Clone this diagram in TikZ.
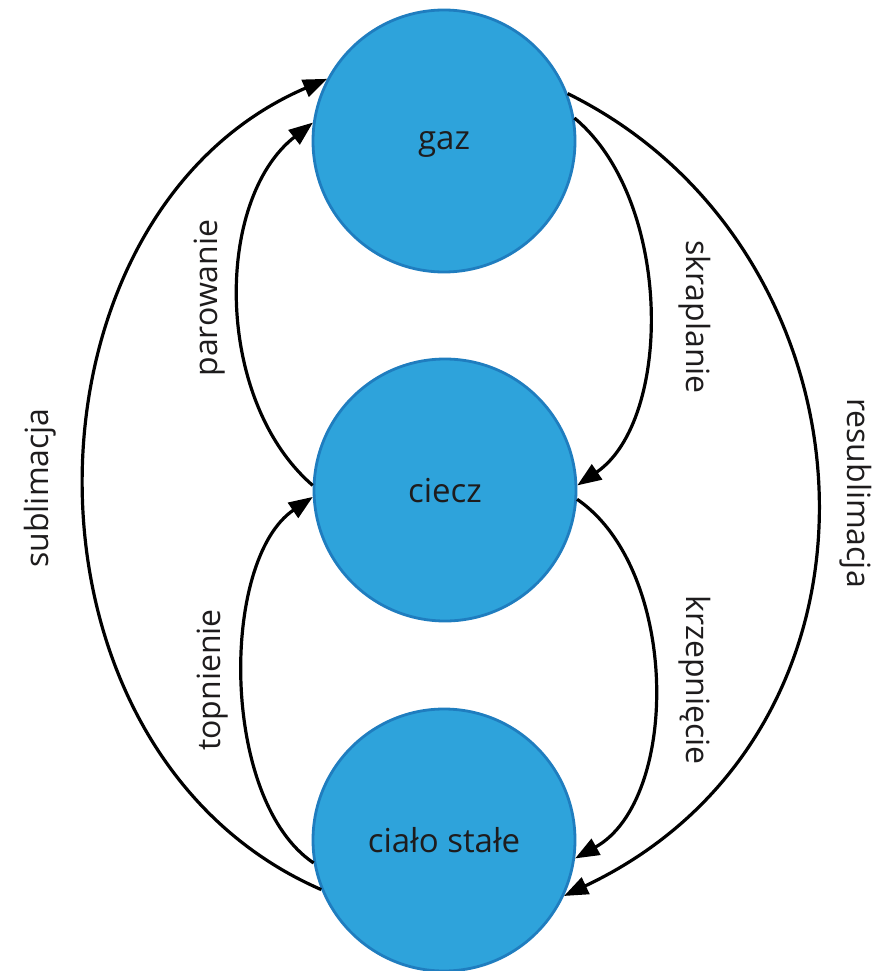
\documentclass[tikz,border=0pt]{standalone}
\usepackage{fontspec}
\setmainfont{Open Sans}
\usetikzlibrary{arrows.meta}
\definecolor{phasefill}{HTML}{2EA3DB}
\definecolor{phaseedge}{HTML}{1F7DBF}
\definecolor{inktext}{HTML}{1E1C1D}
\tikzset{
  phase/.style={circle, draw=phaseedge, line width=2.8pt, fill=phasefill,
    minimum size=262pt, inner sep=0pt, text depth=0pt, text=inktext,
    font=\fontsize{33}{38}\selectfont},
  trans/.style={draw=black, line width=3.2pt,
    -{Triangle[length=24pt,width=18pt]}},
  lbl/.style={text=inktext, font=\fontsize{32}{38}\selectfont, inner sep=0pt}
}
\begin{document}
\begin{tikzpicture}[x=1pt,y=-1pt]
\useasboundingbox (0,0) rectangle (873,971);
\fill[white] (0,0) rectangle (873,971);

% the three states of matter
\node[phase] (gaz)   at (444,141) {gaz};
\node[phase] (ciecz) at (445,490) {ciecz};
\node[phase] (solid) at (444,840) {ciało stałe};

% transitions, left side
\draw[trans] (solid.202) .. controls (0,750) and (10,215) .. (gaz.152);
\draw[trans] (ciecz.178) .. controls (214,400) and (214,200) .. (gaz.172);
\draw[trans] (solid.190) .. controls (220,800) and (220,560) .. (ciecz.183);

% transitions, right side
\draw[trans] (gaz.10) .. controls (673,200) and (673,420) .. (ciecz.2);
\draw[trans] (gaz.21) .. controls (885,250) and (915,730) .. (solid.-25);
\draw[trans] (ciecz.-4) .. controls (680,570) and (680,800) .. (solid.-8);

% transition names
\node[lbl, rotate=90]  (sub)  at (40,488)  {sublimacja};
\node[lbl, rotate=90]  (par)  at (210,298) {parowanie};
\node[lbl, rotate=90]  (top)  at (213,680) {topnienie};
\node[lbl, rotate=-90] (skr)  at (695,317) {skraplanie};
\node[lbl, rotate=-90] (krz)  at (695,680) {krzepnięcie};
\node[lbl, rotate=-90] (res)  at (856,493) {resublimacja};
\end{tikzpicture}
\end{document}
